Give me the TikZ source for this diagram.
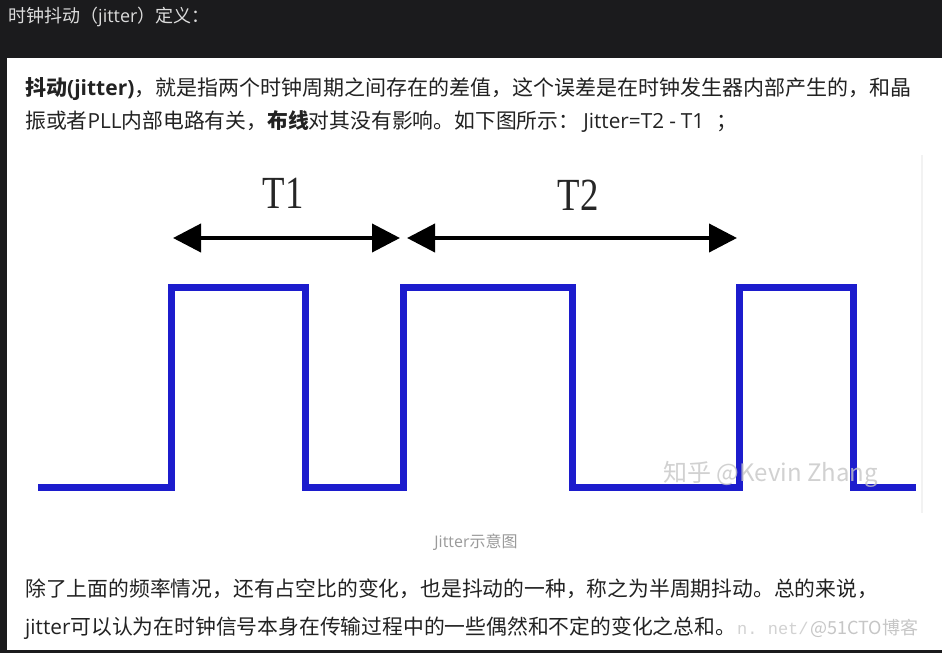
\documentclass[tikz,border=0pt]{standalone}
\usepackage{fontspec}
\setmainfont{Noto Sans CJK SC}
\newfontfamily\serifT{Liberation Serif}
\newfontfamily\monoW{Liberation Mono}
\newfontfamily\latf{Open Sans}
\newcommand{\lt}[1]{{\latf #1}}
\usetikzlibrary{arrows.meta}
\definecolor{bgdark}{HTML}{1B1B1D}
\definecolor{wave}{RGB}{28,28,205}
\definecolor{bodytxt}{HTML}{222222}
\definecolor{headtxt}{HTML}{DCDCDC}
\definecolor{captxt}{HTML}{9A9A9A}
\tikzset{
  bodyline/.style={anchor=base west, inner sep=0pt, text=bodytxt, font=\fontsize{20.8}{24}\selectfont},
  headline/.style={anchor=base west, inner sep=0pt, text=headtxt, font=\fontsize{18}{21}\selectfont},
  caption/.style={anchor=base, inner sep=0pt, text=captxt, font=\fontsize{16}{19}\selectfont},
  tlabel/.style={anchor=base, inner sep=0pt, text=black!85, font=\serifT\fontsize{46}{50}\selectfont},
  wavepath/.style={draw=wave, line width=7pt, line join=miter},
  period/.style={draw=black, line width=4pt, {Triangle[length=28pt,width=28pt]}-{Triangle[length=28pt,width=28pt]}},
  mark1/.style={anchor=base west, inner sep=0pt, text=gray!45, opacity=0.8, font=\fontsize{24}{28}\selectfont},
  mark2/.style={anchor=base west, inner sep=0pt, text=gray!35, font=\monoW\fontsize{17}{20}\selectfont},
  mark3/.style={anchor=base west, inner sep=0pt, text=gray!45, font=\fontsize{18}{22}\selectfont},
}
\begin{document}
\begin{tikzpicture}[x=1pt,y=-1pt]
\useasboundingbox (0,0) rectangle (942,653);
\fill[bgdark] (0,0) rectangle (942,653);
\fill[white] (7,58) rectangle (942,650);
% faint edge of the embedded picture
\draw[gray!10, line width=1.5pt] (922,155) -- (922,513);

% header
\node[headline] (head) at (8,22.5) {时钟抖动（\lt{jitter}）定义：};

% first paragraph
\node[bodyline, font=\fontsize{21}{24}\selectfont] (p1a) at (25,95) {{\bfseries 抖动\lt{(jitter)}}，就是指两个时钟周期之间存在的差值，这个误差是在时钟发生器内部产生的，和晶};
\node[bodyline] (p1b) at (25,128) {振或者\lt{PLL}内部电路有关，{\bfseries 布线}对其没有影响。如下图所示：\hspace{4pt}\lt{Jitter=T2\hspace{5pt}-\hspace{5pt}T1}\hspace{12pt}；};

% waveform
\path[wavepath] (38,487) -- (171,487) -- (171,287) -- (305,287) -- (305,487)
  -- (403,487) -- (403,287) -- (572,287) -- (572,487) -- (739,487)
  -- (739,287) -- (853,287) -- (853,487) -- (916,487);

% period arrows
\coordinate (t1s) at (173,238);
\coordinate (t1e) at (400,238);
\coordinate (t2s) at (407,238);
\coordinate (t2e) at (737,238);
\draw[period] (t1s) -- (t1e);
\draw[period] (t2s) -- (t2e);
\node[tlabel] (T1) at (283,208) {\scalebox{0.8}[1]{T1}};
\node[tlabel] (T2) at (578,210) {\scalebox{0.8}[1]{T2}};

% watermark in the picture
\node[mark1] (zh) at (663,481) {知乎 @Kevin Zhang};

% caption
\node[caption] (cap) at (476,547) {\lt{Jitter}示意图};

% bottom watermarks
\node[mark2] (csdn) at (737,634) {n.~net/};
\node[mark3] (cto) at (810,634) {@51CTO博客};

% second paragraph
\node[bodyline] (p2a) at (25,596) {除了上面的频率情况，还有占空比的变化，也是抖动的一种，称之为半周期抖动。总的来说，};
\node[bodyline] (p2b) at (25,634) {\lt{jitter}可以认为在时钟信号本身在传输过程中的一些偶然和不定的变化之总和。};
\end{tikzpicture}
\end{document}
